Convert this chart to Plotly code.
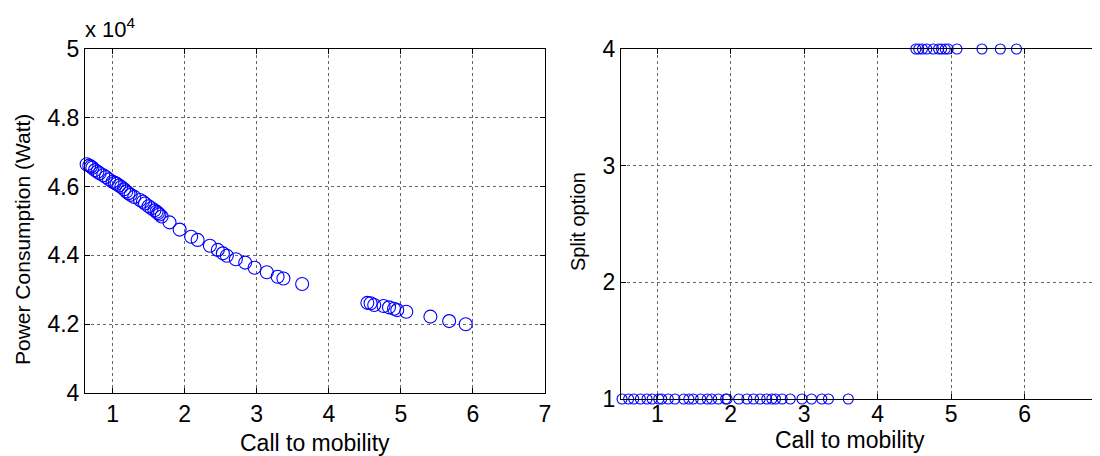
import plotly.graph_objects as go

# Left panel: call-to-mobility ratio vs power consumption (x 10^4 W)
mobility_power = [0.594, 0.64, 0.676, 0.70, 0.72, 0.755, 0.79, 0.82, 0.87, 0.907, 0.95, 1.0, 1.03,
                  1.055, 1.09, 1.12, 1.16, 1.19, 1.22, 1.25, 1.30, 1.38, 1.42, 1.45, 1.50, 1.54,
                  1.58, 1.61, 1.63, 1.65, 1.68, 1.79, 1.93, 2.09, 2.18, 2.35, 2.46, 2.53, 2.585,
                  2.71, 2.84, 2.97, 3.14, 3.29, 3.37, 3.63, 4.535, 4.58, 4.63, 4.76, 4.835, 4.905,
                  4.95, 5.075, 5.41, 5.67, 5.90]
power_1e4 = [4.669, 4.665, 4.661, 4.658, 4.655, 4.648, 4.643, 4.639, 4.633, 4.628, 4.621, 4.614, 4.611,
             4.608, 4.603, 4.599, 4.592, 4.586, 4.581, 4.576, 4.570, 4.561, 4.556, 4.551, 4.543, 4.537,
             4.531, 4.527, 4.523, 4.519, 4.513, 4.496, 4.475, 4.454, 4.445, 4.428, 4.416, 4.406, 4.399,
             4.389, 4.379, 4.364, 4.351, 4.338, 4.333, 4.317, 4.262, 4.261, 4.256, 4.253, 4.249, 4.245,
             4.241, 4.236, 4.222, 4.209, 4.200]

# Right panel: call-to-mobility ratio vs chosen split option
mobility_split = [0.52, 0.61, 0.68, 0.77, 0.86, 0.93, 1.02, 1.06, 1.15, 1.24, 1.36, 1.43, 1.49, 1.59,
                  1.68, 1.74, 1.83, 1.93, 1.95, 2.11, 2.22, 2.31, 2.40, 2.49, 2.56, 2.61, 2.70, 2.81,
                  2.97, 3.10, 3.24, 3.33, 3.60,
                  4.52, 4.56, 4.61, 4.67, 4.76, 4.83, 4.87, 4.92, 4.96, 5.08, 5.42, 5.67, 5.89]
split_option = [1] * 33 + [4] * 13

x_ticks = [1, 2, 3, 4, 5, 6, 7]
power_ticks = [4, 4.2, 4.4, 4.6, 4.8, 5]
power_tick_text = ["4", "4.2", "4.4", "4.6", "4.8", "5"]
split_ticks = [1, 2, 3, 4]

FONT = "Liberation Sans, Arial, sans-serif"
BLUE = "#0000FF"
OFF = 8                      # page body margin of the browser
W, H = 1100 - OFF, 456 - OFF

fig = go.Figure()
fig.add_trace(go.Scatter(x=mobility_power, y=power_1e4, mode="markers", xaxis="x", yaxis="y",
                         marker=dict(symbol="circle-open", size=13, color=BLUE, line=dict(width=1.1, color=BLUE)),
                         cliponaxis=False, showlegend=False))
fig.add_trace(go.Scatter(x=mobility_split, y=split_option, mode="markers", xaxis="x2", yaxis="y2",
                         marker=dict(symbol="circle-open", size=10, color=BLUE, line=dict(width=1.1, color=BLUE)),
                         cliponaxis=False, showlegend=False))

def px_x(p):
    return (p - OFF) / W

def px_y(p):
    return 1 - (p - OFF) / H

axis_common = dict(showline=True, linecolor="black", linewidth=1, mirror="ticks", ticks="inside",
                   ticklen=5, tickcolor="black", showgrid=True, gridcolor="#666666", gridwidth=1,
                   griddash="dot", zeroline=False, automargin=False, ticklabeloverflow="allow",
                   tickfont=dict(family=FONT, size=23, color="black"))

fig.update_layout(
    width=W, height=H, margin=dict(l=0, r=0, t=0, b=0, pad=0, autoexpand=False),
    paper_bgcolor="white", plot_bgcolor="white",
    xaxis=dict(domain=[px_x(85), px_x(545)], range=[0.617, 7], tickvals=x_ticks, anchor="y",
               **axis_common),
    yaxis=dict(domain=[px_y(393), px_y(49)], range=[4, 5], tickvals=power_ticks, ticktext=power_tick_text,
               anchor="x", **axis_common),
    xaxis2=dict(domain=[px_x(621), min(1.0, px_x(1098))], range=[0.506, 7], tickvals=x_ticks, anchor="y2",
                ticklabelstandoff=-6, **axis_common),
    yaxis2=dict(domain=[px_y(399), px_y(49)], range=[1, 4], tickvals=split_ticks, anchor="x2", **axis_common),
)

ann_font = dict(family=FONT, size=23, color="black")
fig.add_annotation(text="Call to mobility", x=px_x(315), y=px_y(443), xref="paper", yref="paper",
                   showarrow=False, font=ann_font, xanchor="center", yanchor="middle")
fig.add_annotation(text="Call to mobility", x=px_x(850), y=px_y(440), xref="paper", yref="paper",
                   showarrow=False, font=ann_font, xanchor="center", yanchor="middle")
fig.add_annotation(text="Power Consumption (Watt)", x=px_x(22), y=px_y(240), xref="paper", yref="paper",
                   showarrow=False, font=dict(family=FONT, size=21, color="black"), textangle=-90,
                   xanchor="center", yanchor="middle")
fig.add_annotation(text="Split option", x=px_x(578), y=px_y(222), xref="paper", yref="paper",
                   showarrow=False, font=dict(family=FONT, size=20, color="black"), textangle=-90,
                   xanchor="center", yanchor="middle")
fig.add_annotation(text="x 10<sup>4</sup>", x=px_x(83), y=px_y(44), xref="paper", yref="paper",
                   showarrow=False, font=dict(family=FONT, size=22, color="black"),
                   xanchor="left", yanchor="bottom")

fig.write_html("out.html")
